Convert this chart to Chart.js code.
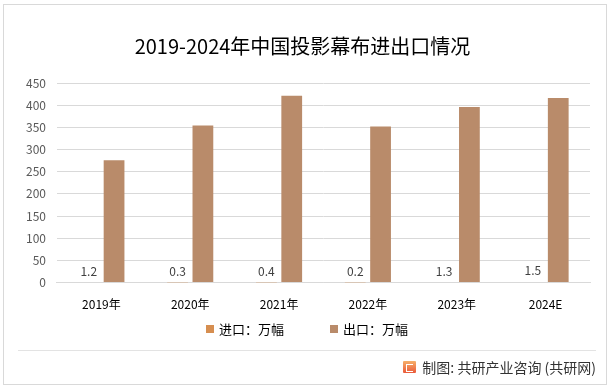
<!DOCTYPE html>
<html>
<head>
<meta charset="utf-8">
<script src="https://cdn.jsdelivr.net/npm/chart.js@4"></script>
<style>
  body { margin: 0; background: #fff; }
  #wrap { position: relative; width: 614px; height: 388px; }
  #frame { position: absolute; left: 3px; top: 4px; width: 602px; height: 379px; border: 1px solid #d9d9d9; }
  #sep { position: absolute; left: 18px; top: 350px; width: 578px; height: 1px; background: #e3e3e3; }
  #src { position: absolute; right: 18px; top: 357px; font: 14px "Noto Sans CJK SC", sans-serif; color: #333; display: flex; align-items: center; }
  #logo { width: 13px; height: 12px; margin-right: 6px; background: linear-gradient(180deg, #f6b06a, #ea5a3a); border-radius: 1px; position: relative; }
  #logo::after { content: ""; position: absolute; left: 3px; top: 3px; width: 6px; height: 6px; border: 1.5px solid #fff; border-right: none; }
  canvas { position: absolute; left: 0; top: 0; }
</style>
</head>
<body>
<div id="wrap">
  <div id="frame"></div>
  <canvas id="main_chart" width="614" height="388"></canvas>
  <div id="sep"></div>
  <div id="src"><span id="logo"></span>制图: 共研产业咨询 (共研网)</div>
</div>
<script>
const years = ['2019年', '2020年', '2021年', '2022年', '2023年', '2024E'];
const imports = [1.2, 0.3, 0.4, 0.2, 1.3, 1.5];
const exports = [276, 354, 421, 352, 396, 416];
const y_ticks = [0, 50, 100, 150, 200, 250, 300, 350, 400, 450];

const cjk = '"Noto Sans CJK SC", "Noto Sans", sans-serif';

// labels on top of the import bars only
const import_labels = {
    id: 'import_labels',
    afterDatasetsDraw(chart) {
        const ctx = chart.ctx;
        const meta = chart.getDatasetMeta(0);
        ctx.save();
        ctx.font = '12px ' + cjk;
        ctx.fillStyle = '#404040';
        ctx.textAlign = 'center';
        ctx.textBaseline = 'bottom';
        meta.data.forEach((bar, i) => {
            ctx.fillText(imports[i].toString(), bar.x, bar.y - 5);
        });
        ctx.restore();
    }
};

// the built-in legend ties item gap to its height, so draw it by hand
const bottom_legend = {
    id: 'bottom_legend',
    afterDraw(chart) {
        const ctx = chart.ctx;
        const gap = 46, box = 8, y = 329;
        ctx.save();
        ctx.font = '13px ' + cjk;
        ctx.textBaseline = 'middle';
        const items = chart.data.datasets.map(ds => ({
            text: ds.label,
            color: ds.backgroundColor,
            w: box + 5 + ctx.measureText(ds.label).width
        }));
        const total = items.reduce((s, it) => s + it.w, 0) + gap * (items.length - 1);
        let x = (chart.width - total) / 2;
        items.forEach(it => {
            ctx.fillStyle = it.color;
            ctx.fillRect(x, y - box / 2, box, box);
            ctx.fillStyle = '#000';
            ctx.fillText(it.text, x + box + 5, y);
            x += it.w + gap;
        });
        ctx.restore();
    }
};

document.addEventListener('DOMContentLoaded', function() {
    new Chart(document.getElementById('main_chart'), {
        type: 'bar',
        data: {
            labels: years,
            datasets: [{
                label: '进口：万幅',
                data: imports,
                backgroundColor: '#d68e50',
                categoryPercentage: 0.57,
                barPercentage: 0.82
            }, {
                label: '出口：万幅',
                data: exports,
                backgroundColor: '#b98b6a',
                categoryPercentage: 0.57,
                barPercentage: 0.82
            }]
        },
        options: {
            responsive: false,
            animation: false,
            layout: {
                padding: { left: 15, right: 24, top: 14, bottom: 61 }
            },
            scales: {
                x: {
                    grid: { display: false, drawTicks: false },
                    border: { color: '#d9d9d9' },
                    ticks: {
                        color: '#000',
                        font: { family: cjk, size: 12 },
                        padding: 15,
                        maxRotation: 0
                    }
                },
                y: {
                    min: 0,
                    max: 450,
                    afterBuildTicks: (axis) => {
                        axis.ticks = y_ticks.map(v => ({ value: v }));
                    },
                    grid: { color: '#d9d9d9', drawTicks: false },
                    border: { display: false },
                    ticks: {
                        color: '#595959',
                        font: { family: cjk, size: 12 },
                        padding: 11
                    }
                }
            },
            plugins: {
                title: {
                    display: true,
                    text: '2019-2024年中国投影幕布进出口情况',
                    color: '#000',
                    font: { family: cjk, size: 20, weight: 'normal' },
                    padding: { top: 20, bottom: 25 }
                },
                legend: { display: false },
                tooltip: { enabled: false }
            }
        },
        plugins: [import_labels, bottom_legend]
    });
});
</script>
</body>
</html>
